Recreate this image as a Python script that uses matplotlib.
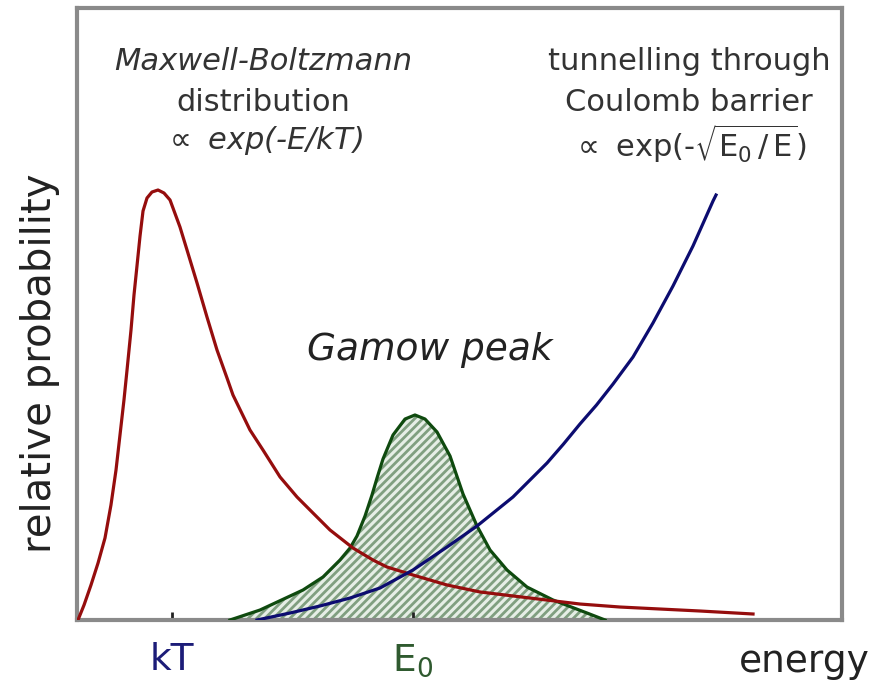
import matplotlib
matplotlib.use("Agg")
import matplotlib.pyplot as plt
import numpy as np

# --- data (energy and probability, both 0..100) ---
mb_energy = [0.13, 0.92, 1.83, 2.75, 3.66, 4.44, 5.10, 5.62, 6.14, 6.54, 7.06, 7.45,
             7.84, 8.24, 8.63, 9.15, 9.80, 10.59, 11.37, 12.16, 13.46, 14.38, 15.69,
             16.99, 18.30, 19.61, 20.39, 22.61, 24.31, 26.54, 28.76, 30.85, 33.07,
             36.08, 38.69, 40.52, 43.92, 48.37, 52.68, 59.22, 65.75, 70.98, 81.44, 88.37]
mb_prob = [0.0, 2.45, 5.72, 9.31, 13.40, 18.79, 24.51, 30.23, 35.95, 40.85, 47.39, 53.10,
           57.84, 62.75, 66.83, 68.95, 69.93, 70.26, 69.77, 68.63, 64.22, 60.46, 55.07,
           49.51, 44.12, 39.54, 36.76, 31.05, 27.78, 23.37, 20.10, 17.48, 14.71,
           11.76, 9.80, 8.66, 7.35, 5.72, 4.58, 3.59, 2.61, 2.12, 1.47, 0.98]

tunnel_energy = [23.53, 27.84, 31.76, 35.69, 39.61, 43.92, 48.37, 52.29, 56.99, 61.44,
                 63.60, 65.75, 67.91, 70.07, 72.68, 75.29, 77.91, 80.52, 83.14, 83.53]
tunnel_prob = [0.0, 1.14, 2.29, 3.59, 5.23, 8.17, 11.93, 15.36, 20.10, 25.65,
               28.76, 32.03, 35.13, 38.56, 42.97, 48.53, 54.58, 61.11, 68.46, 69.44]

gamow_energy = [20.00, 23.92, 29.54, 32.16, 34.38, 35.69, 36.60, 37.65, 38.56, 39.22,
                40.00, 41.31, 42.88, 44.18, 45.49, 47.06, 48.76, 50.46, 52.29, 53.99,
                56.21, 58.82, 62.22, 66.67, 69.02]
gamow_prob = [0.0, 1.63, 4.90, 7.03, 9.80, 11.76, 13.73, 16.99, 20.42, 23.20,
              26.31, 30.23, 32.84, 33.50, 32.84, 30.72, 26.80, 20.59, 15.36, 11.44,
              8.17, 5.39, 3.27, 1.14, 0.0]

tick_pos = [12.42, 43.92]
tick_labels = ["kT", r"E$_\mathregular{0}$"]
tick_colors = ["#1c1c78", "#2f5a2f"]

plt.rcParams['font.family'] = ['DejaVu Sans']
plt.rcParams['mathtext.fontset'] = 'dejavusans'
plt.rcParams['hatch.linewidth'] = 2.0

fig = plt.figure(figsize=(8.74, 6.93), dpi=100)
ax = fig.add_axes([77/874, 73/693, 765/874, 612/693])
ax.set_xlim(0, 100)
ax.set_ylim(0, 100)

# Gamow peak, hatched
ax.fill_between(gamow_energy, gamow_prob, 0, facecolor="#e6eee6",
                edgecolor="#809f80", hatch="////", linewidth=0, zorder=1)
ax.plot(gamow_energy, gamow_prob, color="#0f4a0f", lw=2.3, zorder=3)
ax.plot(mb_energy, mb_prob, color="#950d0d", lw=2.3, zorder=4)
ax.plot(tunnel_energy, tunnel_prob, color="#0c0c70", lw=2.3, zorder=4)

# frame
for s in ax.spines.values():
    s.set_color("#8a8a8a")
    s.set_linewidth(3)

ax.set_yticks([])
ax.set_xticks(tick_pos)
ax.set_xticklabels(tick_labels, fontsize=27)
for lbl, c in zip(ax.get_xticklabels(), tick_colors):
    lbl.set_color(c)
ax.tick_params(axis='x', direction='in', length=6, width=2, color="#222222", pad=16)

fig.text(870/874, 1 - 662/693, "energy", fontsize=27, ha='right', va='center', color="#222222")
fig.text(40/874, 1 - 363/693, "relative probability", fontsize=29, rotation=90,
         ha='center', va='center', color="#222222")

# annotations
ax.text(24.4, 91.2, "Maxwell-Boltzmann", fontsize=22, style='italic', ha='center', va='center', color="#333333")
ax.text(24.4, 84.5, "distribution", fontsize=22, ha='center', va='center', color="#333333")
ax.text(24.4, 78.4, r"$\propto$ exp(-E/kT)", fontsize=22, style='italic', ha='center', va='center', color="#333333")

ax.text(80.0, 91.2, "tunnelling through", fontsize=22, ha='center', va='center', color="#333333")
ax.text(80.0, 84.5, "Coulomb barrier", fontsize=22, ha='center', va='center', color="#333333")
ax.text(80.0, 77.8, r"$\propto$ exp(-$\sqrt{\mathregular{E_0\,/\,E}}$)", fontsize=22,
        ha='center', va='center', color="#333333")

ax.text(46.1, 44.1, "Gamow peak", fontsize=27, style='italic', ha='center', va='center', color="#222222")

fig.savefig("out.png", dpi=100)
